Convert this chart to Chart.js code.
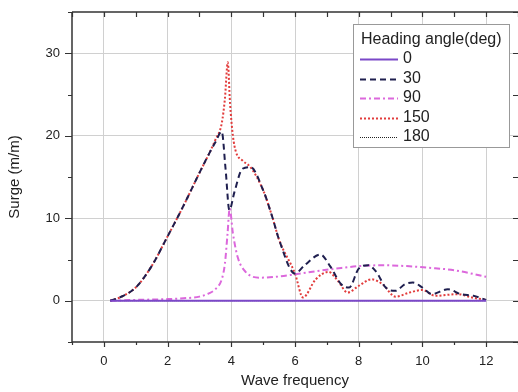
<!DOCTYPE html>
<html>
<head>
<meta charset="utf-8">
<script src="https://cdn.jsdelivr.net/npm/chart.js@4"></script>
<style>
  body { margin: 0; background: #fff; }
  canvas { display: block; }
</style>
</head>
<body>
<canvas id="surgeChart" width="518" height="392"></canvas>
<script>
// Heading angles shown in the legend
const headings = ['0', '30', '90', '150', '180'];

// Surge RAO values (x = wave frequency, y = surge m/m)
const freq0 = [0.2, 12];
const surge0 = [0, 0];

const freq30 = [0.2, 0.5, 1.0, 1.5, 2.0, 2.3, 2.6, 3.0, 3.3, 3.5, 3.7, 3.82, 3.94, 4.1, 4.35, 4.6, 5.0, 5.3, 5.5, 6.0, 6.3, 6.8, 7.1, 7.45, 7.7, 8.0, 8.3, 8.55, 8.85, 9.15, 9.45, 9.7, 10.0, 10.3, 10.8, 11.2, 11.6, 12.0];
const surge30 = [0, 0.4, 1.6, 4.2, 7.8, 10, 12.3, 15.5, 17.8, 19.2, 20.5, 16, 11, 13.2, 16, 16.2, 13.4, 10, 7.4, 3.3, 4.3, 5.6, 4.2, 2.0, 1.6, 3.9, 4.3, 3.5, 1.6, 1.2, 2.0, 2.2, 1.6, 0.8, 1.4, 0.8, 0.6, 0.1];

const freq90 = [0.2, 1.0, 2.0, 2.5, 3.0, 3.3, 3.5, 3.7, 3.8, 3.88, 3.95, 4.05, 4.2, 4.45, 4.9, 5.4, 6.0, 6.7, 7.3, 8.0, 8.75, 9.5, 10.2, 11.0, 12.0];
const surge90 = [0, 0.1, 0.2, 0.3, 0.5, 0.9, 1.4, 2.6, 4.5, 8.0, 11.2, 8.2, 5.3, 3.5, 2.8, 2.9, 3.2, 3.6, 3.9, 4.2, 4.3, 4.2, 4.0, 3.7, 2.9];

const freq150 = [0.2, 0.5, 1.0, 1.5, 2.0, 2.3, 2.6, 3.0, 3.3, 3.5, 3.7, 3.8, 3.89, 3.96, 4.05, 4.15, 4.35, 4.6, 5.0, 5.3, 5.5, 6.0, 6.25, 6.65, 7.05, 7.35, 7.65, 8.0, 8.4, 8.75, 9.15, 9.6, 10.0, 10.4, 11.1, 11.55, 12.0];
const surge150 = [0, 0.4, 1.6, 4.2, 7.8, 10, 12.3, 15.5, 17.8, 19.5, 21.5, 24.5, 28.9, 24, 20, 18, 17, 16.2, 13.4, 10, 7.4, 3.3, 0.4, 2.6, 3.5, 2.4, 1.0, 1.8, 2.6, 2.0, 0.5, 1.0, 1.3, 0.6, 0.8, 0.4, 0.1];

const freq180 = [0.2, 12];
const surge180 = [0, 0];

// Labelled ticks
const xTickLabels = [0, 2, 4, 6, 8, 10, 12];
const yTickLabels = [0, 10, 20, 30];

function toPoints(xs, ys) {
    return xs.map((x, i) => ({ x: x, y: ys[i] }));
}

const lineStyles = [
    { color: '#7b48c8', width: 2, dash: [] },
    { color: '#1f1f4f', width: 2, dash: [6, 4] },
    { color: '#dc68dc', width: 2, dash: [6, 3, 2, 3] },
    { color: '#e23c3c', width: 2, dash: [2, 2] },
    { color: '#222222', width: 1, dash: [1, 1] }
];

const series = [
    toPoints(freq0, surge0),
    toPoints(freq30, surge30),
    toPoints(freq90, surge90),
    toPoints(freq150, surge150),
    toPoints(freq180, surge180)
];

const datasets = series.map((pts, i) => ({
    label: headings[i],
    data: pts,
    borderColor: lineStyles[i].color,
    borderWidth: lineStyles[i].width,
    borderDash: lineStyles[i].dash,
    pointRadius: 0,
    fill: false,
    cubicInterpolationMode: 'monotone'
}));

// Draws the axis frame, tick marks and the boxed legend
const framePlugin = {
    id: 'frame',
    afterDraw(chart) {
        const ctx = chart.ctx;
        const a = chart.chartArea;
        const xs = chart.scales.x;
        const ys = chart.scales.y;
        ctx.save();
        ctx.strokeStyle = '#333';
        ctx.lineWidth = 1.5;
        ctx.setLineDash([]);
        ctx.beginPath();
        ctx.moveTo(a.left, a.top);
        ctx.lineTo(a.left, a.bottom);
        ctx.lineTo(a.right, a.bottom);
        ctx.moveTo(a.left, a.top);
        ctx.lineTo(a.right, a.top);
        ctx.stroke();

        ctx.lineWidth = 1.2;
        ctx.beginPath();
        for (let v = -1; v <= 13; v++) {
            const px = Math.round(xs.getPixelForValue(v)) + 0.5;
            const len = v % 2 === 0 ? 5 : 3;
            ctx.moveTo(px, a.bottom);
            ctx.lineTo(px, a.bottom + len);
            ctx.moveTo(px, a.top);
            ctx.lineTo(px, a.top + 5);
        }
        for (let v = -5; v <= 35; v += 5) {
            const py = Math.round(ys.getPixelForValue(v)) + 0.5;
            const len = v % 10 === 0 ? 7 : 4;
            ctx.moveTo(a.left - len, py);
            ctx.lineTo(a.left, py);
            ctx.moveTo(a.right, py);
            ctx.lineTo(a.right - 5, py);
        }
        ctx.stroke();

        // legend
        const lx = 353, ly = 24, lw = 156, lh = 123;
        ctx.fillStyle = '#fff';
        ctx.fillRect(lx, ly, lw, lh);
        ctx.strokeStyle = '#999';
        ctx.lineWidth = 1;
        ctx.strokeRect(lx + 0.5, ly + 0.5, lw, lh);
        ctx.fillStyle = '#222';
        ctx.font = '16px "Liberation Sans", Arial, sans-serif';
        ctx.textBaseline = 'middle';
        ctx.textAlign = 'left';
        ctx.fillText('Heading angle(deg)', 361, 40);
        headings.forEach((h, i) => {
            const y = 59 + i * 19.5;
            const st = lineStyles[i];
            ctx.strokeStyle = st.color;
            ctx.lineWidth = st.width;
            ctx.setLineDash(st.dash);
            ctx.beginPath();
            ctx.moveTo(360, Math.round(y) + 0.5);
            ctx.lineTo(398, Math.round(y) + 0.5);
            ctx.stroke();
            ctx.fillText(h, 403, y);
        });
        ctx.restore();
    }
};

const ctx = document.getElementById('surgeChart').getContext('2d');
new Chart(ctx, {
    type: 'line',
    data: { datasets: datasets },
    options: {
        responsive: false,
        animation: false,
        layout: { autoPadding: false, padding: { top: 12, right: 0, left: 0, bottom: 0 } },
        plugins: {
            legend: { display: false },
            tooltip: { enabled: false }
        },
        scales: {
            x: {
                type: 'linear',
                min: -1,
                max: 13,
                afterFit: s => {
                    s.height = 50;
                    s.paddingLeft = 0;
                    s.paddingRight = 0;
                },
                border: { display: false },
                grid: {
                    drawTicks: false,
                    color: c => (xTickLabels.includes(c.tick.value) ? '#d0d0d0' : 'transparent')
                },
                ticks: {
                    stepSize: 1,
                    autoSkip: false,
                    maxRotation: 0,
                    padding: 12,
                    color: '#222',
                    font: { family: '"Liberation Sans", Arial, sans-serif', size: 13 },
                    callback: v => (xTickLabels.includes(v) ? String(v) : '')
                },
                title: {
                    display: true,
                    text: 'Wave frequency',
                    color: '#222',
                    padding: { top: 0, bottom: 2 },
                    font: { family: '"Liberation Sans", Arial, sans-serif', size: 15 }
                }
            },
            y: {
                min: -5,
                max: 35,
                afterFit: s => {
                    s.width = 72;
                    s.paddingTop = 0;
                    s.paddingBottom = 0;
                },
                border: { display: false },
                grid: {
                    drawTicks: false,
                    color: c => (yTickLabels.includes(c.tick.value) ? '#d0d0d0' : 'transparent')
                },
                ticks: {
                    stepSize: 5,
                    autoSkip: false,
                    padding: 12,
                    color: '#222',
                    font: { family: '"Liberation Sans", Arial, sans-serif', size: 13 },
                    callback: v => (yTickLabels.includes(v) ? String(v) : '')
                },
                title: {
                    display: true,
                    text: 'Surge (m/m)',
                    color: '#222',
                    padding: { top: 6, bottom: 0 },
                    font: { family: '"Liberation Sans", Arial, sans-serif', size: 15 }
                }
            }
        }
    },
    plugins: [framePlugin]
});
</script>
</body>
</html>
